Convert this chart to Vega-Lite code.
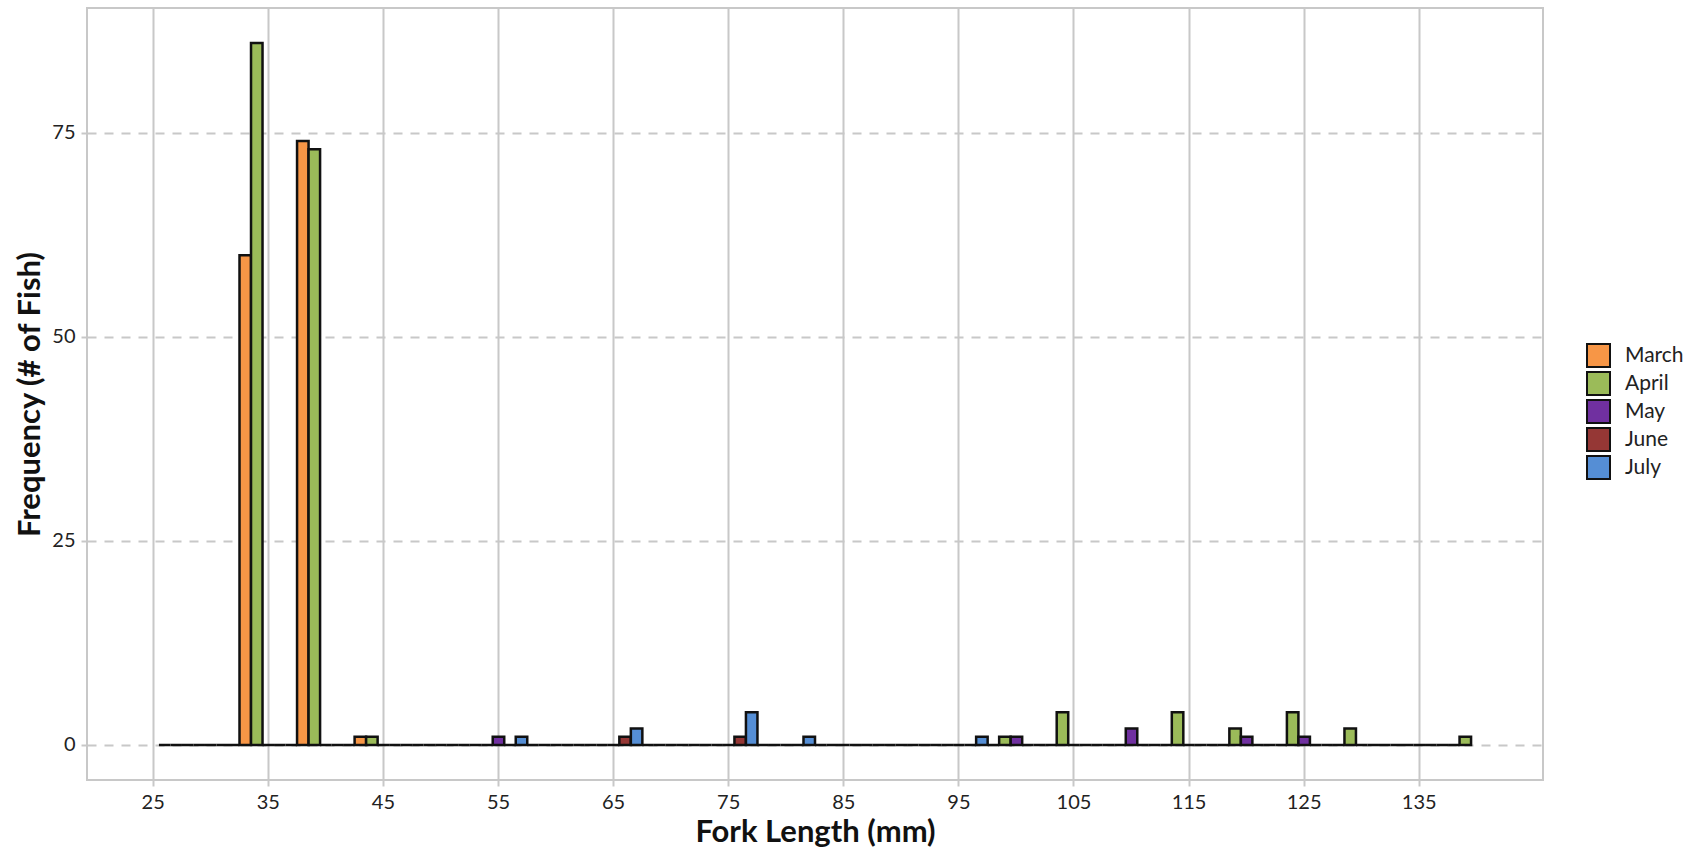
{
  "$schema": "https://vega.github.io/schema/vega-lite/v6.json",
  "autosize": {"type": "none"},
  "padding": {"left": 87, "top": 8, "right": 158, "bottom": 70},
  "width": 1456,
  "height": 772,
  "background": "white",
  "config": {
    "font": "Lato",
    "view": {"stroke": "#c8c8c8", "strokeWidth": 2},
    "axis": {
      "labelFont": "Lato",
      "labelFontSize": 20,
      "labelColor": "#222222",
      "titleFont": "Lato",
      "titleFontSize": 31,
      "titleFontWeight": "bold",
      "titleColor": "#111111",
      "domain": false,
      "tickColor": "#c8c8c8",
      "tickWidth": 2,
      "tickSize": 6,
      "labelPadding": 6,
      "gridColor": "#c8c8c8",
      "gridWidth": 2
    },
    "legend": {
      "labelFont": "Lato",
      "labelFontSize": 21,
      "labelColor": "#222222"
    }
  },
  "data": {
    "values": [
      {"b": 25, "m": "June", "n": 0}, {"b": 25, "m": "July", "n": 0},
      {"b": 30, "m": "March", "n": 0}, {"b": 30, "m": "April", "n": 0}, {"b": 30, "m": "May", "n": 0}, {"b": 30, "m": "June", "n": 0}, {"b": 30, "m": "July", "n": 0},
      {"b": 35, "m": "March", "n": 60}, {"b": 35, "m": "April", "n": 86}, {"b": 35, "m": "May", "n": 0}, {"b": 35, "m": "June", "n": 0}, {"b": 35, "m": "July", "n": 0},
      {"b": 40, "m": "March", "n": 74}, {"b": 40, "m": "April", "n": 73}, {"b": 40, "m": "May", "n": 0}, {"b": 40, "m": "June", "n": 0}, {"b": 40, "m": "July", "n": 0},
      {"b": 45, "m": "March", "n": 1}, {"b": 45, "m": "April", "n": 1}, {"b": 45, "m": "May", "n": 0}, {"b": 45, "m": "June", "n": 0}, {"b": 45, "m": "July", "n": 0},
      {"b": 50, "m": "March", "n": 0}, {"b": 50, "m": "April", "n": 0}, {"b": 50, "m": "May", "n": 0}, {"b": 50, "m": "June", "n": 0}, {"b": 50, "m": "July", "n": 0},
      {"b": 55, "m": "March", "n": 0}, {"b": 55, "m": "April", "n": 0}, {"b": 55, "m": "May", "n": 1}, {"b": 55, "m": "June", "n": 0}, {"b": 55, "m": "July", "n": 1},
      {"b": 60, "m": "March", "n": 0}, {"b": 60, "m": "April", "n": 0}, {"b": 60, "m": "May", "n": 0}, {"b": 60, "m": "June", "n": 0}, {"b": 60, "m": "July", "n": 0},
      {"b": 65, "m": "March", "n": 0}, {"b": 65, "m": "April", "n": 0}, {"b": 65, "m": "May", "n": 0}, {"b": 65, "m": "June", "n": 1}, {"b": 65, "m": "July", "n": 2},
      {"b": 70, "m": "March", "n": 0}, {"b": 70, "m": "April", "n": 0}, {"b": 70, "m": "May", "n": 0}, {"b": 70, "m": "June", "n": 0}, {"b": 70, "m": "July", "n": 0},
      {"b": 75, "m": "March", "n": 0}, {"b": 75, "m": "April", "n": 0}, {"b": 75, "m": "May", "n": 0}, {"b": 75, "m": "June", "n": 1}, {"b": 75, "m": "July", "n": 4},
      {"b": 80, "m": "March", "n": 0}, {"b": 80, "m": "April", "n": 0}, {"b": 80, "m": "May", "n": 0}, {"b": 80, "m": "June", "n": 0}, {"b": 80, "m": "July", "n": 1},
      {"b": 85, "m": "March", "n": 0}, {"b": 85, "m": "April", "n": 0}, {"b": 85, "m": "May", "n": 0}, {"b": 85, "m": "June", "n": 0}, {"b": 85, "m": "July", "n": 0},
      {"b": 90, "m": "March", "n": 0}, {"b": 90, "m": "April", "n": 0}, {"b": 90, "m": "May", "n": 0}, {"b": 90, "m": "June", "n": 0}, {"b": 90, "m": "July", "n": 0},
      {"b": 95, "m": "March", "n": 0}, {"b": 95, "m": "April", "n": 0}, {"b": 95, "m": "May", "n": 0}, {"b": 95, "m": "June", "n": 0}, {"b": 95, "m": "July", "n": 1},
      {"b": 100, "m": "March", "n": 0}, {"b": 100, "m": "April", "n": 1}, {"b": 100, "m": "May", "n": 1}, {"b": 100, "m": "June", "n": 0}, {"b": 100, "m": "July", "n": 0},
      {"b": 105, "m": "March", "n": 0}, {"b": 105, "m": "April", "n": 4}, {"b": 105, "m": "May", "n": 0}, {"b": 105, "m": "June", "n": 0}, {"b": 105, "m": "July", "n": 0},
      {"b": 110, "m": "March", "n": 0}, {"b": 110, "m": "April", "n": 0}, {"b": 110, "m": "May", "n": 2}, {"b": 110, "m": "June", "n": 0}, {"b": 110, "m": "July", "n": 0},
      {"b": 115, "m": "March", "n": 0}, {"b": 115, "m": "April", "n": 4}, {"b": 115, "m": "May", "n": 0}, {"b": 115, "m": "June", "n": 0}, {"b": 115, "m": "July", "n": 0},
      {"b": 120, "m": "March", "n": 0}, {"b": 120, "m": "April", "n": 2}, {"b": 120, "m": "May", "n": 1}, {"b": 120, "m": "June", "n": 0}, {"b": 120, "m": "July", "n": 0},
      {"b": 125, "m": "March", "n": 0}, {"b": 125, "m": "April", "n": 4}, {"b": 125, "m": "May", "n": 1}, {"b": 125, "m": "June", "n": 0}, {"b": 125, "m": "July", "n": 0},
      {"b": 130, "m": "March", "n": 0}, {"b": 130, "m": "April", "n": 2}, {"b": 130, "m": "May", "n": 0}, {"b": 130, "m": "June", "n": 0}, {"b": 130, "m": "July", "n": 0},
      {"b": 135, "m": "March", "n": 0}, {"b": 135, "m": "April", "n": 0}, {"b": 135, "m": "May", "n": 0}, {"b": 135, "m": "June", "n": 0}, {"b": 135, "m": "July", "n": 0},
      {"b": 140, "m": "March", "n": 0}, {"b": 140, "m": "April", "n": 1}
    ]
  },
  "mark": {"type": "bar", "stroke": "#111111", "strokeWidth": 2.5},
  "encoding": {
    "x": {
      "field": "b",
      "type": "ordinal",
      "scale": {"paddingInner": 0, "paddingOuter": 0.65},
      "axis": {
        "values": [25, 35, 45, 55, 65, 75, 85, 95, 105, 115, 125, 135],
        "labelAngle": 0,
        "grid": true,
        "bandPosition": 0.5,
        "title": "Fork Length (mm)",
        "titleX": 728,
        "titleY": 52,
        "titleBaseline": "middle"
      }
    },
    "xOffset": {
      "field": "m",
      "type": "nominal",
      "scale": {"domain": ["March", "April", "May", "June", "July"], "paddingInner": 0, "paddingOuter": 0}
    },
    "y": {
      "field": "n",
      "type": "quantitative",
      "scale": {"domain": [-4.3, 90.3], "nice": false, "zero": false},
      "axis": {
        "values": [0, 25, 50, 75],
        "grid": true,
        "gridDash": [9, 8],
        "title": "Frequency (# of Fish)",
        "titleX": -57,
        "titleY": 386,
        "titleBaseline": "middle"
      }
    },
    "y2": {"datum": 0},
    "color": {
      "field": "m",
      "type": "nominal",
      "scale": {
        "domain": ["March", "April", "May", "June", "July"],
        "range": ["#F79646", "#9BBB59", "#7030A0", "#953735", "#558ED5"]
      },
      "legend": {
        "title": null,
        "orient": "none",
        "legendX": 1499,
        "legendY": 335,
        "padding": 0,
        "symbolType": "square",
        "symbolSize": 529,
        "symbolStrokeColor": "#111111",
        "symbolStrokeWidth": 2,
        "symbolOpacity": 1,
        "rowPadding": -3,
        "labelOffset": 14
      }
    }
  }
}
